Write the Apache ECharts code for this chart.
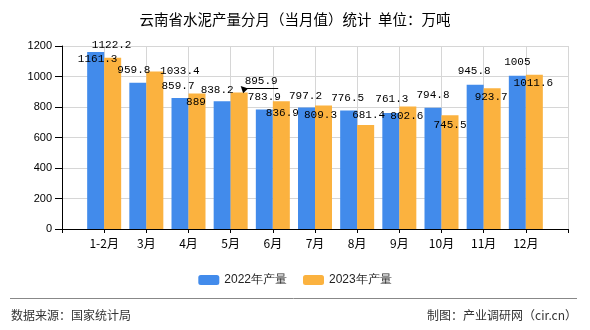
<!DOCTYPE html>
<html><head><meta charset="utf-8">
<script src="https://cdn.jsdelivr.net/npm/echarts@6/dist/echarts.min.js"></script>
<style>html,body{margin:0;padding:0;background:#fff}#c{width:590px;height:330px}</style>
</head><body><div id="c"></div>
<script>
const titleText = '云南省水泥产量分月（当月值）统计  单位：万吨';
const categories = ['1-2月','3月','4月','5月','6月','7月','8月','9月','10月','11月','12月'];
const values2022 = [1161.3, 959.8, 859.7, 838.2, 783.9, 797.2, 776.5, 761.3, 794.8, 945.8, 1005];
const values2023 = [1122.2, 1033.4, 889, 895.9, 836.9, 809.3, 681.4, 802.6, 745.5, 923.7, 1011.6];
const seriesNames = ['2022年产量', '2023年产量'];
const yMin = 0, yMax = 1200, yStep = 200;
const sourceText = '数据来源：国家统计局';
const makerText = '制图：产业调研网（cir.cn）';

// label nudges in pixels (layout only)
const nudge2022 = [[2,18],[-4,-2],[-2,-1],[-5,-1],[0,-2],[-1,-1],[-1,-2],[1,-3],[0,-2],[-1,-3],[0,-3]];
const nudge2023 = [[-1,-2],[25,10],[-1,19],[22,2],[1,22],[-3,20],[3,1],[-1,20],[0,20],[-1,19],[-1,19]];
const leaderIndex2023 = 3;

const axisCats = [''].concat(categories, ['']);
const labelFont = {fontFamily: 'Liberation Mono', fontSize: 11, color: '#000'};

function buildData(vals, nudges, leaderIdx) {
  return vals.map((v, i) => {
    const lab = Object.assign({show: true, position: 'top', distance: 5, offset: nudges[i]}, labelFont);
    if (i === leaderIdx) {
      lab.formatter = '{v|' + v + '}\n{l|}';
      lab.rich = {
        v: Object.assign({lineHeight: 12}, labelFont),
        l: {width: 34, height: 1, lineHeight: 2, backgroundColor: '#000'}
      };
    }
    return {value: [categories[i], v], label: lab};
  });
}

const chart = echarts.init(document.getElementById('c'), null, {renderer: 'canvas'});
chart.setOption({
  animation: false,
  backgroundColor: '#fff',
  title: {
    text: titleText, left: 'center', top: 7,
    textStyle: {fontFamily: 'Noto Sans CJK SC', fontSize: 14.5, fontWeight: 'normal', color: '#000'}
  },
  legend: {
    data: seriesNames, top: 269, left: 'center',
    itemWidth: 21, itemHeight: 10, itemGap: 16,
    textStyle: {fontFamily: 'Liberation Sans', fontSize: 12, color: '#222'}
  },
  grid: {left: 62, right: 22, top: 46, bottom: 101, containLabel: false},
  xAxis: {
    type: 'category', data: axisCats, boundaryGap: false,
    axisLine: {lineStyle: {color: '#000', width: 1}},
    axisTick: {show: true, interval: 0, length: 4, lineStyle: {color: '#000'}},
    axisLabel: {interval: 0, margin: 8, fontFamily: 'Noto Sans CJK SC', fontSize: 12, color: '#000'},
    splitLine: {show: true, interval: 0, lineStyle: {color: '#d6d6d6', width: 1}}
  },
  yAxis: {
    type: 'value', min: yMin, max: yMax, interval: yStep,
    axisLine: {show: true, lineStyle: {color: '#000', width: 1}},
    axisTick: {show: true, length: 7, lineStyle: {color: '#000'}},
    axisLabel: {margin: 10, fontFamily: 'Liberation Sans', fontSize: 11, color: '#000', formatter: v => String(v)},
    splitLine: {show: true, lineStyle: {color: '#d6d6d6', width: 1}}
  },
  series: [
    {
      name: seriesNames[0], type: 'bar', barWidth: 17, barGap: '0%',
      itemStyle: {color: '#428BEB'},
      data: buildData(values2022, nudge2022, -1)
    },
    {
      name: seriesNames[1], type: 'bar', barWidth: 17, barGap: '0%',
      itemStyle: {color: '#FBB23F'},
      data: buildData(values2023, nudge2023, leaderIndex2023),
      markPoint: {
        symbol: 'triangle', symbolSize: [7, 7], symbolRotate: 45, symbolOffset: [4, -4],
        itemStyle: {color: '#000'}, label: {show: false}, silent: true,
        data: [{coord: [categories[leaderIndex2023], values2023[leaderIndex2023]]}]
      }
    }
  ],
  graphic: [
    {type: 'line', shape: {x1: 10, y1: 298.5, x2: 577, y2: 298.5}, style: {stroke: '#888', lineWidth: 1}},
    {type: 'text', left: 11, top: 309, style: {text: sourceText, font: '12px "Noto Sans CJK SC"', fill: '#333'}},
    {type: 'text', right: 13, top: 309, style: {text: makerText, font: '12px "Noto Sans CJK SC"', fill: '#333'}}
  ]
});
</script>
</body></html>
